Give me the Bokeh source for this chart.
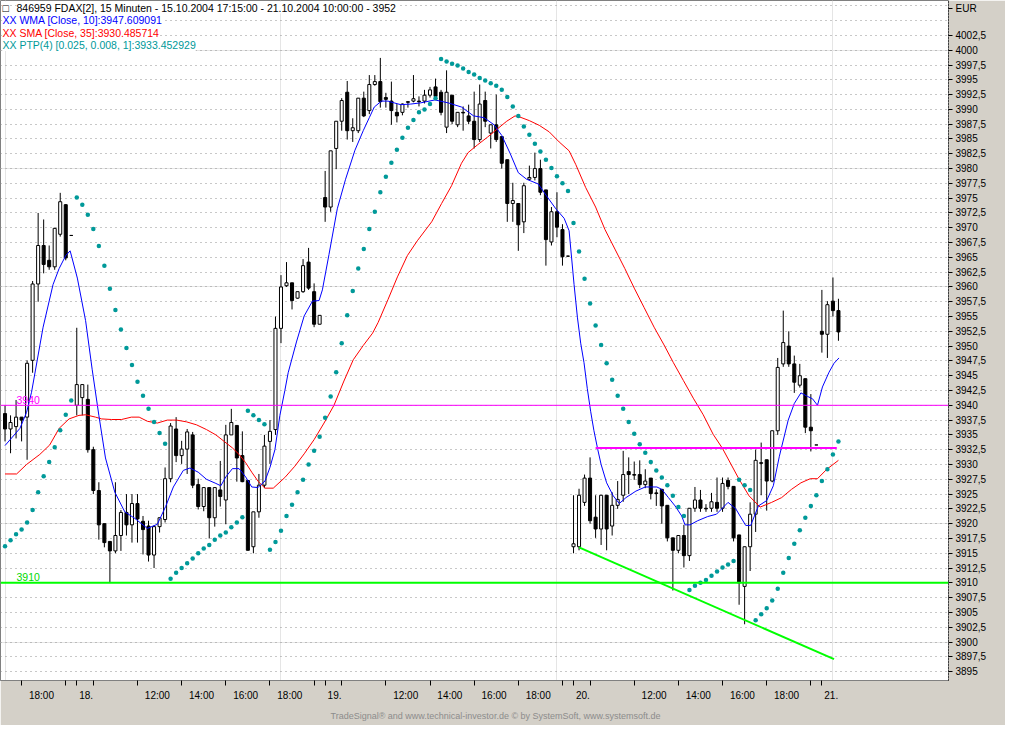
import numpy as np

from bokeh.plotting import figure
from bokeh.embed import file_html
from bokeh.resources import INLINE
from bokeh.models import (ColumnDataSource, LinearAxis, FixedTicker, SingleIntervalTicker,
                          CustomJSTickFormatter, Grid, Span, Label, Title)

# -----------------------------
# data: FDAX 15 min bars, 15.10.2004 17:15 .. 21.10.2004 10:00
# -----------------------------
opens = [3938.6, 3936.0, 3936.4, 3938.0, 3938.0, 3947.6, 3960.5, 3967.0, 3964.5, 3963.4,
         3968.9, 3973.9, 3968.7, 3940.0, 3941.3, 3941.0, 3932.5, 3925.6, 3920.0, 3917.0,
         3915.4, 3918.0, 3921.9, 3919.8, 3923.4, 3920.4, 3919.6, 3914.7, 3919.5, 3920.7,
         3927.6, 3936.0, 3931.5, 3932.6, 3935.0, 3926.6, 3922.9, 3926.1, 3921.0, 3925.7,
         3924.0, 3935.0, 3936.6, 3931.5, 3927.3, 3916.1, 3922.0, 3926.5, 3933.9, 3935.9,
         3953.0, 3960.2, 3960.7, 3958.1, 3959.2, 3964.2, 3959.2, 3953.7, 3975.1, 3973.5,
         3983.4, 3988.0, 3992.9, 3986.4, 3986.4, 3991.9, 3989.8, 3994.2, 3994.7, 3992.0,
         3991.4, 3989.5, 3989.5, 3991.3, 3991.4, 3991.4, 3991.4, 3992.4, 3993.8, 3992.9,
         3987.0, 3992.4, 3987.4, 3989.5, 3988.9, 3988.0, 3984.9, 3991.5, 3986.0, 3987.4,
         3985.4, 3981.5, 3974.1, 3974.1, 3971.0, 3978.2, 3978.5, 3980.0, 3976.4, 3967.6,
         3972.7, 3969.7, 3965.2, 3916.1, 3916.1, 3923.6, 3927.7, 3921.1, 3919.1, 3924.8,
         3919.6, 3923.1, 3924.8, 3928.8, 3928.3, 3928.3, 3926.6, 3927.7, 3925.2, 3925.8,
         3923.1, 3917.6, 3915.5, 3918.0, 3914.6, 3922.6, 3924.0, 3922.6, 3922.6, 3923.6,
         3922.6, 3927.3, 3926.3, 3918.1, 3909.4, 3916.1, 3921.6, 3930.3, 3930.8, 3927.2,
         3935.7, 3947.0, 3950.0, 3947.0, 3943.4, 3944.5, 3936.3, 3933.3, 3952.5, 3952.0,
         3957.6, 3956.0]
highs = [3940.0, 3938.3, 3940.9, 3938.0, 3947.6, 3961.0, 3972.5, 3971.4, 3967.0, 3970.0,
         3975.9, 3974.0, 3968.7, 3953.1, 3943.5, 3943.5, 3933.0, 3927.0, 3920.0, 3917.0,
         3927.0, 3922.3, 3925.0, 3925.0, 3925.0, 3921.3, 3920.5, 3919.7, 3921.0, 3929.5,
         3937.0, 3938.0, 3934.0, 3936.0, 3935.5, 3927.6, 3926.1, 3926.1, 3926.1, 3930.6,
         3936.7, 3939.4, 3936.6, 3935.6, 3927.3, 3922.0, 3928.4, 3935.0, 3937.5, 3955.0,
         3962.0, 3964.2, 3960.7, 3959.2, 3964.7, 3966.6, 3960.6, 3955.2, 3979.6, 3983.0,
         3988.0, 3991.9, 3994.8, 3988.5, 3991.9, 3993.0, 3995.8, 3995.8, 3998.7, 3992.8,
         3994.7, 3990.9, 3991.0, 3991.4, 3995.8, 3992.2, 3993.3, 3993.8, 3995.2, 3993.3,
         3996.6, 3992.4, 3989.5, 3990.5, 3990.8, 3993.0, 3994.2, 3993.0, 3987.4, 3992.5,
         3985.4, 3981.5, 3977.6, 3974.1, 3977.6, 3980.5, 3982.7, 3981.5, 3976.4, 3973.5,
         3976.0, 3970.6, 3965.3, 3924.8, 3925.9, 3928.3, 3931.2, 3924.8, 3924.8, 3924.8,
         3925.3, 3927.2, 3932.3, 3931.2, 3930.5, 3930.7, 3929.2, 3927.7, 3925.8, 3925.8,
         3923.1, 3917.6, 3918.0, 3919.8, 3922.6, 3926.2, 3925.7, 3923.3, 3925.2, 3927.8,
         3927.8, 3927.8, 3926.3, 3918.1, 3916.1, 3923.6, 3932.5, 3933.7, 3930.8, 3935.7,
         3948.0, 3956.0, 3952.5, 3948.4, 3947.0, 3944.5, 3941.9, 3933.3, 3959.5, 3957.6,
         3961.6, 3958.0]
lows = [3933.9, 3931.9, 3934.4, 3933.9, 3930.8, 3945.5, 3957.5, 3962.3, 3962.9, 3962.9,
        3968.5, 3964.5, 3968.7, 3938.3, 3938.3, 3932.0, 3925.0, 3917.3, 3916.0, 3910.0,
        3915.0, 3915.4, 3918.0, 3916.8, 3916.8, 3914.8, 3913.6, 3912.5, 3918.5, 3920.2,
        3927.0, 3930.4, 3930.1, 3928.4, 3926.0, 3922.4, 3922.1, 3917.5, 3919.5, 3922.9,
        3919.9, 3935.0, 3927.1, 3927.0, 3915.5, 3915.0, 3921.0, 3926.0, 3930.1, 3935.0,
        3950.5, 3960.0, 3956.2, 3958.0, 3959.0, 3959.5, 3953.2, 3953.7, 3971.0, 3972.7,
        3979.9, 3986.4, 3984.9, 3984.5, 3986.0, 3988.7, 3989.2, 3994.0, 3990.3, 3990.3,
        3987.4, 3987.8, 3989.0, 3990.3, 3991.2, 3990.5, 3991.0, 3992.0, 3991.8, 3989.0,
        3986.0, 3987.5, 3987.0, 3986.4, 3987.5, 3983.4, 3984.5, 3987.0, 3983.4, 3984.5,
        3980.0, 3971.0, 3971.0, 3966.1, 3969.1, 3978.0, 3978.0, 3975.5, 3963.6, 3967.0,
        3968.4, 3963.6, 3965.1, 3915.0, 3915.5, 3923.0, 3920.0, 3917.6, 3916.4, 3915.5,
        3918.0, 3922.5, 3923.7, 3925.0, 3927.4, 3926.0, 3926.0, 3924.1, 3923.0, 3920.0,
        3917.0, 3908.7, 3915.0, 3912.6, 3913.7, 3922.0, 3922.0, 3922.0, 3922.0, 3922.0,
        3922.0, 3925.8, 3917.0, 3906.3, 3903.0, 3912.0, 3918.6, 3924.8, 3922.2, 3927.0,
        3935.0, 3946.5, 3946.5, 3942.1, 3943.0, 3935.3, 3932.2, 3933.3, 3948.9, 3948.0,
        3955.0, 3950.9]
closes = [3936.0, 3937.1, 3938.0, 3937.5, 3947.1, 3960.5, 3967.0, 3963.8, 3963.4, 3969.9,
          3974.4, 3964.9, 3968.7, 3943.5, 3943.5, 3932.5, 3925.6, 3919.8, 3916.8, 3915.4,
          3918.0, 3921.9, 3919.8, 3923.4, 3920.8, 3919.0, 3914.7, 3919.5, 3921.0, 3927.6,
          3936.5, 3931.5, 3932.6, 3935.5, 3926.5, 3922.9, 3926.1, 3921.0, 3926.1, 3924.6,
          3935.0, 3937.1, 3931.1, 3927.1, 3915.5, 3922.0, 3926.5, 3933.1, 3935.6, 3953.0,
          3960.0, 3960.7, 3957.7, 3959.2, 3963.6, 3959.8, 3953.7, 3955.2, 3973.5, 3983.0,
          3988.0, 3991.5, 3986.4, 3986.9, 3991.9, 3988.9, 3994.2, 3994.7, 3991.3, 3991.7,
          3989.8, 3988.9, 3990.9, 3991.2, 3991.8, 3991.3, 3992.4, 3993.3, 3992.2, 3989.5,
          3992.9, 3988.0, 3989.5, 3989.4, 3988.0, 3984.9, 3990.9, 3988.0, 3987.4, 3984.9,
          3980.9, 3974.1, 3974.6, 3970.5, 3977.1, 3978.5, 3980.0, 3976.0, 3968.0, 3972.7,
          3970.1, 3965.1, 3965.2, 3916.6, 3924.8, 3927.7, 3920.5, 3919.1, 3924.8, 3919.1,
          3923.1, 3924.1, 3928.3, 3928.3, 3928.2, 3926.6, 3927.2, 3925.1, 3925.1, 3923.0,
          3917.6, 3915.5, 3918.0, 3914.6, 3922.6, 3924.0, 3922.6, 3922.5, 3923.7, 3922.6,
          3926.8, 3926.3, 3917.6, 3910.0, 3916.1, 3921.6, 3930.7, 3930.2, 3927.2, 3935.7,
          3946.4, 3950.6, 3947.0, 3943.9, 3945.0, 3936.3, 3935.7, 3933.3, 3952.0, 3957.0,
          3956.0, 3952.4]

# PTP(4) parabolic dots, one per bar
ptp = [3916.2, 3917.2, 3918.2, 3919.0, 3920.2, 3922.3, 3925.3, 3928.0, 3930.4, 3932.9,
       3935.8, 3938.4, 3940.8, 3975.1, 3973.9, 3972.2, 3969.8, 3966.9, 3963.6, 3959.7,
       3956.1, 3952.8, 3949.7, 3946.8, 3944.0, 3941.6, 3939.4, 3937.2, 3935.3, 3933.5,
       3910.7, 3911.7, 3912.5, 3913.3, 3914.1, 3915.0, 3915.8, 3916.4, 3917.3, 3918.0,
       3918.5, 3919.4, 3920.2, 3921.1, 3939.1, 3938.3, 3937.5, 3936.8, 3915.6, 3916.9,
       3918.8, 3921.3, 3923.2, 3925.3, 3927.4, 3930.0, 3932.3, 3934.7, 3937.9, 3941.5,
       3945.6, 3950.5, 3955.2, 3959.3, 3963.1, 3966.4, 3969.8, 3972.7, 3976.0, 3978.6,
       3981.0, 3983.2, 3985.2, 3986.9, 3988.2, 3989.5, 3990.0, 3990.9, 3991.9, 3998.5,
       3998.1, 3997.7, 3997.4, 3996.9, 3996.3, 3995.9, 3995.3, 3994.9, 3994.4, 3994.0,
       3993.3, 3992.1, 3990.5, 3988.9, 3987.1, 3985.7, 3984.2, 3982.9, 3981.5, 3980.1,
       3978.7, 3977.5, 3976.2, 3970.8, 3966.0, 3961.4, 3957.2, 3953.5, 3950.2, 3947.1,
       3944.3, 3941.6, 3939.4, 3937.2, 3935.2, 3933.4, 3932.0, 3930.4, 3929.0, 3927.8,
       3926.5, 3924.7, 3922.8, 3921.3, 3908.8, 3909.5, 3910.0, 3910.5, 3911.2, 3911.9,
       3912.6, 3913.1, 3913.7, 3927.4, 3926.5, 3925.7, 3903.7, 3904.7, 3905.7, 3907.0,
       3909.0, 3911.7, 3914.2, 3916.6, 3918.9, 3921.0, 3923.0, 3924.8, 3927.2, 3929.2,
       3931.7, 3933.9]

# WMA [Close, 10] (bar position, value)
wma_x = [0, 2.7, 3.9, 4.8, 6.9, 8.7, 9.8, 11, 11.8, 13.1, 14.6, 15.8, 17, 18.2, 19.9, 21.7,
         23.5, 25.8, 27.6, 29.1, 30.5, 32.3, 33.5, 35, 36.5, 38.2, 39.1, 40, 41.2, 42.4, 43.6,
         44.7, 45.8, 47.1, 48, 48.9, 49.8, 50.7, 51.3, 52.8, 54.2, 55.7, 56.9, 57.5, 58.7, 60.2,
         61.7, 63.4, 64.9, 66, 66.9, 68.2, 69.4, 70.5, 71.7, 73.5, 75.3, 77.9, 80.3, 82.7, 84.9,
         86.8, 88.6, 90, 91.5, 93, 94.5, 96.6, 98.1, 99.8, 101.3, 102.2, 103.1, 103.7, 104.3,
         104.9, 105.5, 106.1, 106.7, 107.4, 108, 109, 110.2, 111.3, 112.5, 114.3, 116, 118.1,
         119, 120.2, 121.4, 122.6, 123.2, 124.1, 125.5, 127.3, 128.9, 131, 132.4, 134.2, 135.1,
         136.5, 138, 139.2, 140.3, 141.9, 143, 144.2, 145.4, 146.3, 147.2, 148.1, 149.3, 150.2,
         151.1]
wma_y = [3933.2, 3936.1, 3938.8, 3942.2, 3953.2, 3960.4, 3963.1, 3965.3, 3966.1, 3961.5,
         3954.3, 3946.0, 3938.3, 3931.1, 3925.3, 3922.0, 3920.9, 3919.2, 3919.9, 3922.9,
         3926.2, 3929.0, 3929.4, 3928.7, 3927.5, 3926.8, 3926.4, 3927.9, 3929.3, 3929.3,
         3927.9, 3926.2, 3926.1, 3927.2, 3929.5, 3932.5, 3938.3, 3942.5, 3945.5, 3950.7,
         3955.1, 3957.6, 3957.7, 3959.5, 3965.5, 3973.2, 3978.2, 3983.1, 3986.4, 3988.6,
         3990.4, 3991.4, 3991.4, 3991.1, 3990.8, 3990.9, 3991.1, 3991.6, 3991.1, 3990.4,
         3988.9, 3988.6, 3987.4, 3985.6, 3982.6, 3979.3, 3978.2, 3977.4, 3975.4, 3973.2,
         3971.6, 3969.5, 3960.4, 3954.9, 3950.5, 3947.2, 3942.8, 3939.0, 3935.7, 3932.5,
         3930.0, 3926.9, 3924.7, 3923.4, 3924.4, 3925.5, 3926.2, 3926.2, 3925.8, 3924.4,
         3923.0, 3921.3, 3919.8, 3919.8, 3920.5, 3921.2, 3921.6, 3923.6, 3922.5, 3919.7,
         3919.7, 3923.0, 3923.9, 3926.4, 3931.4, 3937.5, 3940.3, 3942.1, 3941.5, 3941.1,
         3940.0, 3943.1, 3945.6, 3947.1, 3948.0]

# SMA [Close, 35] (bar position, value)
sma_x = [0, 2.1, 3.9, 6.3, 8.1, 9.8, 11.6, 13.4, 14.6, 16.4, 17.5, 19.3, 21.1, 22.9, 24.3,
         25.8, 27.6, 29.4, 31.1, 32.9, 34.7, 36.5, 38.2, 39.7, 41.2, 42.4, 43.6, 44.7, 45.9,
         47.1, 48.6, 50.7, 52.5, 54.2, 56, 57.8, 59.6, 61.4, 63.1, 64.9, 66.6, 67.6, 69.4,
         71.1, 72.9, 74.7, 77.3, 79.1, 80.9, 82.7, 83.9, 85.6, 87.4, 89.2, 90.9, 92.4, 93.3,
         95, 96.8, 98.6, 100.4, 102.2, 103.4, 105.2, 107, 108.7, 110.5, 112.3, 114, 115.8,
         117.6, 119.4, 121.1, 122.9, 124.7, 126.5, 128.3, 130, 133, 134.8, 136.8, 138.9, 140.7,
         142.5, 144.2, 145.9, 147.2, 148.9, 151]
sma_y = [3928.4, 3928.4, 3930.0, 3931.7, 3933.3, 3936.1, 3937.7, 3938.3, 3938.4, 3938.0,
         3937.7, 3937.6, 3937.6, 3938.0, 3938.0, 3937.3, 3937.0, 3937.5, 3937.5, 3937.2,
         3936.7, 3935.9, 3935.0, 3933.9, 3932.8, 3931.7, 3930.3, 3928.7, 3927.1, 3926.0,
         3926.0, 3927.8, 3929.7, 3931.8, 3934.2, 3937.0, 3940.0, 3944.1, 3947.7, 3950.1,
         3952.2, 3954.0, 3957.9, 3961.7, 3965.3, 3967.8, 3971.0, 3974.1, 3977.1, 3980.9,
         3982.7, 3984.0, 3985.3, 3986.7, 3988.0, 3988.9, 3988.7, 3988.1, 3987.3, 3986.2,
         3984.5, 3983.0, 3980.7, 3976.8, 3973.5, 3969.7, 3966.4, 3963.1, 3959.8, 3956.5,
         3953.2, 3950.2, 3947.2, 3944.2, 3941.2, 3938.4, 3935.1, 3932.7, 3927.5, 3924.7,
         3922.8, 3923.6, 3924.4, 3925.8, 3926.9, 3927.6, 3927.6, 3929.2, 3930.7]

# drawn levels
support_level = 3910
marker_level = 3940
res_x = [107, 150.7]
res_y = [3932.8, 3932.8]
trend_x = [104, 150.2]
trend_y = [3916.0, 3897.1]

# axis ticks
y_ticks = [3895 + 2.5 * k for k in range(44)]
currency = "EUR"
x_tick_bars = [3, 11, 13, 16, 24, 32, 40, 48, 56, 58, 61, 69, 77, 85, 93, 101, 103, 106,
               114, 122, 130, 138, 146, 148]
label_bars = [3, 13, 24, 32, 40, 48, 58, 69, 77, 85, 93, 103, 114, 122, 130, 138, 148]
label_texts = ["18:00", "18.", "12:00", "14:00", "16:00", "18:00", "19.", "12:00", "14:00",
               "16:00", "18:00", "20.", "12:00", "14:00", "16:00", "18:00", "21."]

# -----------------------------
# figure
# -----------------------------
FONT = "Liberation Sans"
FRAME_W = 948
FRAME_H = 680
GREY = "#d4d0c8"
Y_TOP = 4008.4

p = figure(frame_width=FRAME_W, frame_height=FRAME_H,
           x_range=(-0.82, 170.94), y_range=(3893.5, Y_TOP),
           output_backend="svg", toolbar_location=None,
           x_axis_location=None, y_axis_location=None,
           min_border_left=0, min_border_top=0, min_border_right=57, min_border_bottom=43,
           background_fill_color="white", border_fill_color=GREY,
           outline_line_color="#808080")

# horizontal dotted grid
p.add_layout(Grid(dimension=1, ticker=SingleIntervalTicker(interval=2.5, num_minor_ticks=0),
                  grid_line_color="#909090", grid_line_dash="1 4"))

# candles
bar = np.arange(len(closes))
o = np.array(opens)
c = np.array(closes)
src = ColumnDataSource(dict(
    x=bar, high=highs, low=lows,
    top=np.maximum(o, c), bottom=np.minimum(o, c),
    fill=np.where(c >= o, "white", "black"),
))
p.segment("x", "high", "x", "low", source=src, line_color="black", line_width=1)
p.vbar(x="x", top="top", bottom="bottom", width=0.55, source=src,
       fill_color="fill", line_color="black", line_width=1)

# indicators
p.line(sma_x, sma_y, line_color="#ff0000", line_width=1)
p.line(wma_x, wma_y, line_color="#0000ff", line_width=1)
p.scatter(bar, ptp, marker="circle", size=4.5, fill_color="#009999", line_color=None)

# levels and trend lines
p.add_layout(Span(location=marker_level, dimension="width", line_color="#ff00ff", line_width=1))
p.add_layout(Span(location=support_level, dimension="width", line_color="#00ff00", line_width=2))
p.line(res_x, res_y, line_color="#ff00ff", line_width=2)
p.line(trend_x, trend_y, line_color="#00ff00", line_width=2)

p.add_layout(Label(x=16, x_units="screen", y=marker_level, y_units="data", text="3940",
                   text_color="#ff00ff", text_font=FONT, text_font_size="10.5px",
                   text_baseline="bottom", y_offset=1))
p.add_layout(Label(x=16, x_units="screen", y=support_level, y_units="data", text="3910",
                   text_color="#00d800", text_font=FONT, text_font_size="10.5px",
                   text_baseline="bottom", y_offset=2))

# header texts
def header(text, x, y_top, color):
    p.add_layout(Label(x=x, y=FRAME_H - y_top, x_units="screen", y_units="screen", text=text,
                       text_color=color, text_font=FONT, text_font_size="10.5px",
                       text_baseline="middle", background_fill_color="white"))

header("\u25a1", 2, 7, "black")
header("846959  FDAX[2], 15 Minuten - 15.10.2004 17:15:00 - 21.10.2004 10:00:00 - 3952", 16, 7, "black")
header("XX WMA [Close, 10]:3947.609091", 2, 19.5, "#0000ff")
header("XX SMA [Close, 35]:3930.485714", 2, 32, "#ff0000")
header("XX PTP(4) [0.025, 0.008, 1]:3933.452929", 2, 44.5, "#009999")

# right price axis; the currency sits in the header row of the axis
eur_pos = Y_TOP - 8 * (Y_TOP - 3893.5) / FRAME_H
yaxis = LinearAxis(
    ticker=FixedTicker(ticks=y_ticks + [eur_pos]),
    formatter=CustomJSTickFormatter(args=dict(cur=currency, top=y_ticks[-1]), code="""
        if (tick > top + 1) return cur;
        return Number.isInteger(tick) ? tick.toFixed(0) : tick.toFixed(1).replace('.', ',');
    """),
    axis_line_color="black", axis_line_dash="1 2",
    major_tick_out=4, major_tick_in=0, minor_tick_out=0, minor_tick_in=0,
    major_tick_line_color="black", major_label_standoff=3,
    major_label_text_font=FONT, major_label_text_font_size="10px",
    major_label_text_color="black")
p.add_layout(yaxis, "right")

# time axis: tick marks, then labels set to the right of their ticks
tick_axis = LinearAxis(
    ticker=FixedTicker(ticks=x_tick_bars),
    formatter=CustomJSTickFormatter(code="return '';"),
    axis_line_color="#808080", major_tick_line_color="black",
    major_tick_out=5, major_tick_in=0, minor_tick_out=0, minor_tick_in=0,
    major_label_standoff=0, major_label_text_font_size="1px")
p.add_layout(tick_axis, "below")

label_pos = [b + (3.6 if ":" in t else 1.7) for b, t in zip(label_bars, label_texts)]
label_axis = LinearAxis(
    ticker=FixedTicker(ticks=label_pos),
    formatter=CustomJSTickFormatter(args=dict(pos=label_pos, labs=label_texts), code="""
        let best = 0, d = 1e9;
        for (let k = 0; k < pos.length; k++) {
            const e = Math.abs(pos[k] - tick);
            if (e < d) { d = e; best = k; }
        }
        return labs[best];
    """),
    axis_line_color=None, major_tick_line_color=None,
    major_tick_out=0, major_tick_in=0, minor_tick_out=0, minor_tick_in=0,
    major_label_standoff=4, major_label_text_font=FONT,
    major_label_text_font_size="10px", major_label_text_color="black")
p.add_layout(label_axis, "below")

p.add_layout(Title(text="TradeSignal\u00ae and www.technical-investor.de \u00a9 by SystemSoft, www.systemsoft.de",
                   align="left", offset=330, standoff=10, text_font=FONT, text_font_size="9px",
                   text_font_style="normal", text_color="#8c8c8c"), "below")

open("out.html", "w").write(file_html(p, INLINE))
